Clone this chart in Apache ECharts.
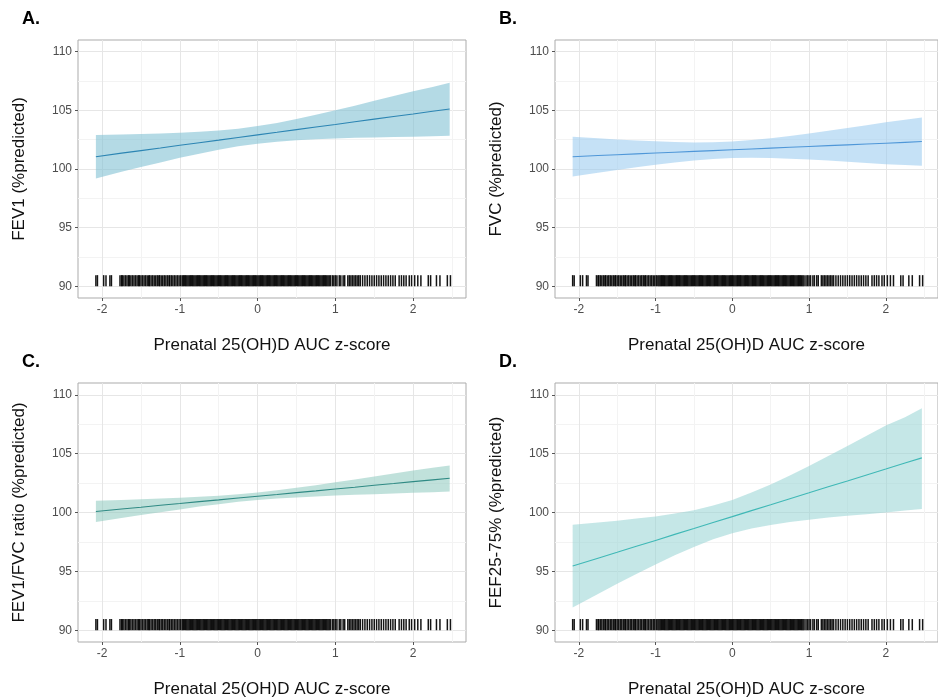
<!DOCTYPE html>
<html>
<head>
<meta charset="utf-8">
<title>Prenatal 25(OH)D and lung function</title>
<script src="https://cdn.jsdelivr.net/npm/echarts@6/dist/echarts.min.js"></script>
<style>
body{margin:0;background:#fff;}
#main{width:938px;height:700px;}
</style>
</head>
<body>
<div id="main"></div>
<script>
// z-score points where the fitted line and its band were read
var xs = [-2.08, -1.75, -1.5, -1.25, -1, -0.75, -0.5, -0.25, 0, 0.25, 0.5, 0.75, 1, 1.25, 1.5, 1.75, 2, 2.25, 2.47];

var fitA = [101.05, 101.35, 101.57, 101.79, 102.02, 102.24, 102.46, 102.69, 102.91, 103.13, 103.36, 103.58, 103.80, 104.03, 104.25, 104.47, 104.69, 104.92, 105.11];
var lowA = [99.20, 99.76, 100.16, 100.56, 100.95, 101.31, 101.64, 101.94, 102.16, 102.33, 102.46, 102.54, 102.60, 102.66, 102.69, 102.72, 102.75, 102.80, 102.84];
var highA = [102.90, 102.94, 102.98, 103.02, 103.09, 103.17, 103.28, 103.44, 103.66, 103.93, 104.26, 104.62, 105.00, 105.40, 105.81, 106.22, 106.63, 107.00, 107.36];

var fitB = [101.05, 101.15, 101.22, 101.29, 101.36, 101.43, 101.50, 101.57, 101.64, 101.71, 101.78, 101.85, 101.92, 101.99, 102.06, 102.13, 102.20, 102.27, 102.34];
var lowB = [99.35, 99.68, 99.92, 100.15, 100.36, 100.56, 100.73, 100.85, 100.93, 100.95, 100.93, 100.88, 100.81, 100.72, 100.62, 100.52, 100.41, 100.35, 100.28];
var highB = [102.75, 102.62, 102.52, 102.43, 102.36, 102.30, 102.27, 102.29, 102.35, 102.47, 102.63, 102.82, 103.03, 103.26, 103.50, 103.74, 103.99, 104.20, 104.40];

var fitC = [100.09, 100.30, 100.45, 100.61, 100.76, 100.92, 101.07, 101.23, 101.38, 101.53, 101.69, 101.84, 102.00, 102.15, 102.31, 102.46, 102.62, 102.77, 102.91];
var lowC = [99.19, 99.53, 99.78, 100.03, 100.26, 100.50, 100.71, 100.91, 101.06, 101.18, 101.28, 101.36, 101.44, 101.50, 101.56, 101.61, 101.68, 101.72, 101.78];
var highC = [100.99, 101.07, 101.12, 101.19, 101.26, 101.34, 101.43, 101.55, 101.70, 101.88, 102.10, 102.32, 102.56, 102.80, 103.06, 103.31, 103.57, 103.80, 104.00];

var fitD = [95.45, 96.12, 96.62, 97.13, 97.63, 98.14, 98.64, 99.15, 99.65, 100.16, 100.66, 101.17, 101.67, 102.18, 102.68, 103.19, 103.69, 104.20, 104.64];
var lowD = [91.93, 93.08, 93.94, 94.78, 95.59, 96.37, 97.08, 97.72, 98.23, 98.64, 98.94, 99.19, 99.39, 99.57, 99.72, 99.86, 99.99, 100.18, 100.30];
var highD = [98.97, 99.16, 99.30, 99.48, 99.67, 99.91, 100.20, 100.59, 101.07, 101.69, 102.38, 103.15, 103.95, 104.79, 105.64, 106.52, 107.39, 108.10, 108.85];

// observed z-scores (rug)
var rug = [-2.08, -2.06, -1.98, -1.95, -1.90, -1.88,
  -1.77, -1.75, -1.74, -1.72, -1.70, -1.68, -1.66, -1.65, -1.63, -1.61, -1.59, -1.57, -1.55, -1.53,
  -1.52, -1.50, -1.48, -1.46, -1.44, -1.42, -1.40, -1.39, -1.37, -1.35, -1.33, -1.31, -1.29, -1.27,
  -1.26, -1.24, -1.22, -1.20, -1.18, -1.16, -1.14, -1.13, -1.11, -1.09, -1.07, -1.05, -1.03, -1.01,
  -0.99, -0.97,
  -0.955, -0.94, -0.925, -0.91, -0.895, -0.88, -0.865, -0.85, -0.835, -0.82, -0.805, -0.79, -0.775,
  -0.76, -0.745, -0.73, -0.715, -0.70, -0.685, -0.67, -0.655, -0.64, -0.625, -0.61, -0.595, -0.58,
  -0.565, -0.55, -0.535, -0.52, -0.505, -0.49, -0.475, -0.46, -0.445, -0.43, -0.415, -0.40, -0.385,
  -0.37, -0.355, -0.34, -0.325, -0.31, -0.295, -0.28, -0.265, -0.25, -0.235, -0.22, -0.205, -0.19,
  -0.175, -0.16, -0.145, -0.13, -0.115, -0.10, -0.085, -0.07, -0.055, -0.04, -0.025, -0.01, 0.005,
  0.02, 0.035, 0.05, 0.065, 0.08, 0.095, 0.11, 0.125, 0.14, 0.155, 0.17, 0.185, 0.20, 0.215, 0.23,
  0.245, 0.26, 0.275, 0.29, 0.305, 0.32, 0.335, 0.35, 0.365, 0.38, 0.395, 0.41, 0.425, 0.44, 0.455,
  0.47, 0.485, 0.50, 0.515, 0.53, 0.545, 0.56, 0.575, 0.59, 0.605, 0.62, 0.635, 0.65, 0.665, 0.68,
  0.695, 0.71, 0.725, 0.74, 0.755, 0.77, 0.785, 0.80, 0.815, 0.83, 0.845, 0.86, 0.875, 0.89, 0.905,
  0.92, 0.935,
  0.96, 0.98, 1.00, 1.02, 1.05, 1.07, 1.10, 1.12, 1.16, 1.18, 1.20, 1.22, 1.24, 1.26, 1.28, 1.30,
  1.32, 1.35, 1.38, 1.41, 1.44, 1.47, 1.50, 1.53, 1.56, 1.59, 1.62, 1.65, 1.68, 1.71, 1.74, 1.77,
  1.82, 1.85, 1.88, 1.91, 1.95, 1.98, 2.02, 2.06, 2.10, 2.195, 2.225, 2.30, 2.345, 2.44, 2.48];

var xTicks = [-2, -1, 0, 1, 2];
var yTicks = [90, 95, 100, 105, 110];
var panelLabels = ["A.", "B.", "C.", "D."];
var yTitles = ["FEV1 (%predicted)", "FVC (%predicted)", "FEV1/FVC ratio (%predicted)", "FEF25-75% (%predicted)"];
var xTitle = "Prenatal 25(OH)D AUC z-score";

var RUG_BASE = 90, RUG_TOP = 90.95;
var FONT = "Liberation Sans, Arial, Helvetica, sans-serif";

var panels = [
  {fit: fitA, low: lowA, high: highA, line: "#2c85b3", band: "rgba(130,194,212,0.6)"},
  {fit: fitB, low: lowB, high: highB, line: "#4f97d8", band: "rgba(150,200,238,0.55)"},
  {fit: fitC, low: lowC, high: highC, line: "#2f8a84", band: "rgba(140,200,190,0.55)"},
  {fit: fitD, low: lowD, high: highD, line: "#3fb8b6", band: "rgba(150,212,212,0.55)"}
];

var grids = [
  {left: 78, top: 40, width: 388, height: 258},
  {left: 555, top: 40, width: 388, height: 258},
  {left: 78, top: 383, width: 388, height: 259},
  {left: 555, top: 383, width: 388, height: 259}
];

var ribbonSeries = function(k, lo, hi, color) {
  return {
    type: "custom", xAxisIndex: k, yAxisIndex: k, silent: true, z: 2,
    data: [[xs[0], lo[0]]],
    renderItem: function(params, api) {
      var pts = [];
      for (var i = 0; i < xs.length; i++) pts.push(api.coord([xs[i], hi[i]]));
      for (var j = xs.length - 1; j >= 0; j--) pts.push(api.coord([xs[j], lo[j]]));
      return {type: "polygon", shape: {points: pts}, style: {fill: color}};
    }
  };
};

var rugSeries = function(k) {
  return {
    type: "custom", xAxisIndex: k, yAxisIndex: k, silent: true, z: 3,
    data: rug.map(function(v) { return [v, RUG_BASE]; }),
    renderItem: function(params, api) {
      var p0 = api.coord([api.value(0), RUG_BASE]);
      var p1 = api.coord([api.value(0), RUG_TOP]);
      return {type: "line", shape: {x1: p0[0], y1: p0[1], x2: p1[0], y2: p1[1]},
        style: {stroke: "rgba(0,0,0,0.92)", lineWidth: 1.5}};
    }
  };
};

var xAxes = [], yAxes = [], series = [], graphics = [];
for (var k = 0; k < 4; k++) {
  xAxes.push({
    type: "value", gridIndex: k, min: -2.31, max: 2.68, splitNumber: 5,
    name: xTitle, nameLocation: "middle", nameGap: 39,
    nameTextStyle: {fontSize: 17, color: "#111", fontFamily: FONT},
    axisLine: {show: false, onZero: false},
    axisTick: {show: true, length: 3, customValues: xTicks, lineStyle: {color: "#555"}},
    axisLabel: {customValues: xTicks, fontSize: 12, color: "#4d4d4d", margin: 6, fontFamily: FONT},
    splitLine: {show: true, lineStyle: {color: "#e6e6e6", width: 1}},
    minorTick: {show: false, splitNumber: 2},
    minorSplitLine: {show: true, lineStyle: {color: "#f3f3f3", width: 1}}
  });
  yAxes.push({
    type: "value", gridIndex: k, min: 89, max: 111, splitNumber: 5,
    name: yTitles[k], nameLocation: "middle", nameGap: 50, nameRotate: 90,
    nameTextStyle: {fontSize: 17, color: "#111", fontFamily: FONT},
    axisLine: {show: false, onZero: false},
    axisTick: {show: true, length: 3, customValues: yTicks, lineStyle: {color: "#555"}},
    axisLabel: {customValues: yTicks, fontSize: 12, color: "#4d4d4d", margin: 6, fontFamily: FONT},
    splitLine: {show: true, lineStyle: {color: "#e6e6e6", width: 1}},
    minorTick: {show: false, splitNumber: 2},
    minorSplitLine: {show: true, lineStyle: {color: "#f3f3f3", width: 1}}
  });
  var p = panels[k];
  series.push(ribbonSeries(k, p.low, p.high, p.band));
  series.push({
    type: "line", xAxisIndex: k, yAxisIndex: k, symbol: "none", silent: true, z: 4,
    data: xs.map(function(x, i) { return [x, p.fit[i]]; }),
    lineStyle: {color: p.line, width: 1.1}
  });
  series.push(rugSeries(k));
  graphics.push({
    type: "text", left: grids[k].left - 56, top: grids[k].top - 30,
    style: {text: panelLabels[k], font: "bold 18px " + FONT, fill: "#000"}
  });
}

var gridOpts = grids.map(function(g) {
  return {left: g.left, top: g.top, width: g.width, height: g.height,
    show: true, borderColor: "#ababab", borderWidth: 1, containLabel: false};
});

var chart = echarts.init(document.getElementById("main"), null, {renderer: "canvas"});
chart.setOption({
  animation: false,
  backgroundColor: "#fff",
  grid: gridOpts,
  xAxis: xAxes,
  yAxis: yAxes,
  series: series,
  graphic: graphics
});
</script>
</body>
</html>
